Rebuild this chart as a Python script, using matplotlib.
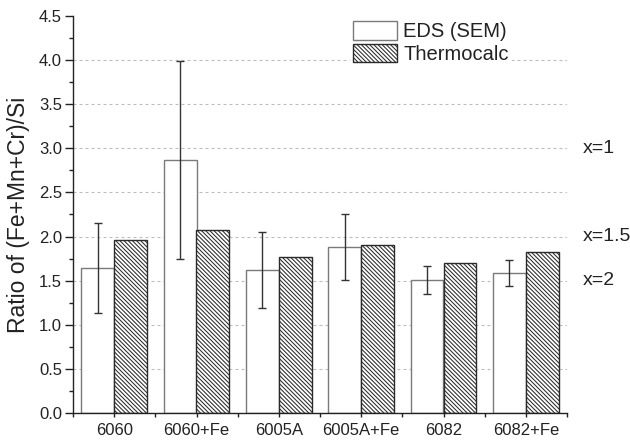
import matplotlib
matplotlib.use("Agg")
import matplotlib.pyplot as plt
import numpy as np
from matplotlib.ticker import MultipleLocator, FixedLocator

plt.rcParams['font.family'] = ['Liberation Sans', 'DejaVu Sans']
plt.rcParams['hatch.linewidth'] = 0.75

categories = ["6060", "6060+Fe", "6005A", "6005A+Fe", "6082", "6082+Fe"]
eds_values = [1.64, 2.87, 1.62, 1.88, 1.51, 1.59]
eds_errors = [0.51, 1.12, 0.43, 0.37, 0.155, 0.15]
thermo_values = [1.96, 2.07, 1.77, 1.905, 1.70, 1.82]
ref_labels = ["x=1", "x=1.5", "x=2"]
ref_levels = [3.0, 2.0, 1.5]

fig = plt.figure(figsize=(6.3, 4.44), dpi=100)
ax = fig.add_axes([73/630, 1-413.3/444, 494/630, (413.3-15.7)/444])

x = np.arange(len(categories))
w = 0.4
ax.bar(x - w/2, eds_values, width=w, facecolor='white', edgecolor='#7a7a7a',
       linewidth=1.0, label='EDS (SEM)', zorder=2)
ax.bar(x + w/2, thermo_values, width=w, facecolor='white', edgecolor='#2a2a2a',
       hatch='\\' * 8, linewidth=1.0, label='Thermocalc', zorder=2)
ax.errorbar(x - w/2, eds_values, yerr=eds_errors, fmt='none', ecolor='#333333',
            elinewidth=1.0, capsize=2.6, capthick=1.0, zorder=3)

ax.set_xlim(-0.5, len(categories) - 0.5)
ax.set_ylim(0, 4.5)
ax.yaxis.set_minor_locator(MultipleLocator(0.25))
ax.set_yticks(np.arange(0, 4.51, 0.5))
ax.set_yticklabels([f"{v:.1f}" for v in np.arange(0, 4.51, 0.5)])
ax.set_xticks(x)
ax.set_xticklabels(categories)
ax.xaxis.set_minor_locator(FixedLocator(np.arange(-0.5, len(categories), 1.0)))

for s in ['top', 'right']:
    ax.spines[s].set_visible(False)
for s in ['left', 'bottom']:
    ax.spines[s].set_color('#222222')
    ax.spines[s].set_linewidth(1.0)

ax.tick_params(axis='y', which='major', direction='out', length=6, width=1,
               color='#222222', labelsize=12, labelcolor='#222222', pad=2)
ax.tick_params(axis='y', which='minor', direction='out', length=3, width=1, color='#222222')
ax.tick_params(axis='x', which='major', direction='out', length=3, width=1,
               color='#222222', labelsize=12, labelcolor='#222222', pad=4)
ax.tick_params(axis='x', which='minor', direction='out', length=3, width=1, color='#222222')

ax.set_axisbelow(True)
ax.yaxis.grid(True, which='major', linestyle=(0, (2.7, 2.7)), color='#bdbdbd', linewidth=0.8)
gl = ax.get_ygridlines()
gl[0].set_visible(False)
gl[-1].set_visible(False)

ax.set_ylabel("Ratio of (Fe+Mn+Cr)/Si", fontsize=16.5, color='#222222', labelpad=6)

for lab, lev in zip(ref_labels, ref_levels):
    ax.text(1.0 + (583 - 567) / 494, lev, lab, transform=ax.get_yaxis_transform(),
            ha='left', va='center', fontsize=14, color='#222222')

leg = ax.legend(loc='upper left', bbox_to_anchor=(350/630, 1 - 18/444),
                bbox_transform=fig.transFigure, fontsize=14.5, frameon=True,
                facecolor='white', edgecolor='none', framealpha=1.0, fancybox=False,
                handlelength=2.2, handleheight=1.05, handletextpad=0.3,
                labelspacing=0.12, borderpad=0.15, borderaxespad=0)
for t in leg.get_texts():
    t.set_color('#222222')

fig.savefig("out.png", dpi=100)
